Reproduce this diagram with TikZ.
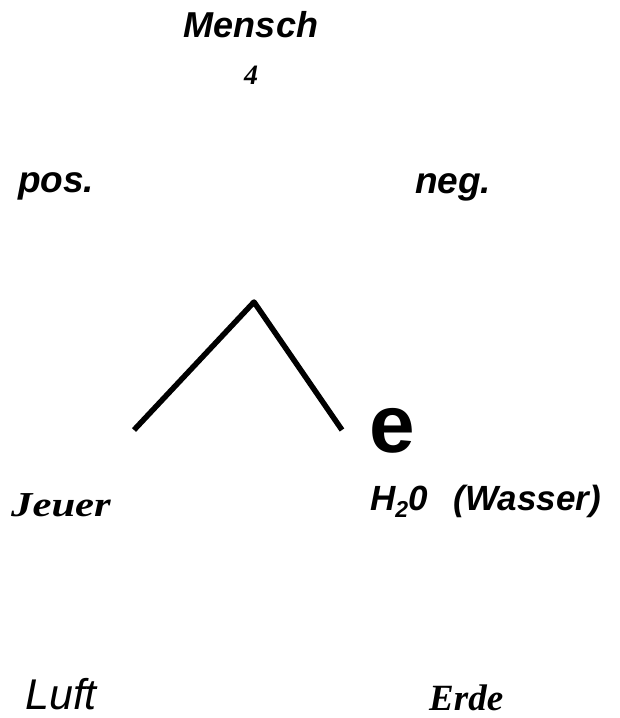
\documentclass[tikz,border=0pt]{standalone}
\usepackage{fontspec}
\usepackage{graphicx}
\setmainfont{Liberation Serif}
\newfontfamily\arialfont{Liberation Sans}
\tikzset{
    lbl/.style={inner sep=0pt, anchor=base west},
    sansbi/.style={font=\arialfont\bfseries\itshape},
    serifbi/.style={font=\bfseries\itshape}
}
\begin{document}
\begin{tikzpicture}[x=1pt, y=-1pt]
                \useasboundingbox (0,0) rectangle (619,718);
                % nodes
                \node[lbl, anchor=base, sansbi] (mensch) at (251,37) {\fontsize{36}{36}\selectfont Mensch};
                \node[lbl, anchor=base, serifbi] (vier) at (251,84) {\fontsize{28}{28}\selectfont 4};
                \node[lbl, sansbi] (pos) at (18,192) {\fontsize{37}{37}\selectfont pos.};
                \node[lbl, sansbi] (neg) at (415,193) {\fontsize{37}{37}\selectfont neg.};
                \node[lbl, font=\arialfont\bfseries] (e) at (369,452) {\fontsize{82}{82}\selectfont e};
                \node[lbl, serifbi] (jeuer) at (11,516) {\fontsize{35}{35}\selectfont\scalebox{1.22}[1]{Jeuer}};
                \node[lbl, sansbi] (wasser) at (370,510) {\fontsize{35}{35}\selectfont H\raisebox{-0.22em}{\fontsize{23}{23}\selectfont 2}0\hspace{26pt}(Wasser)};
                \node[lbl, font=\arialfont\itshape] (luft) at (25,709) {\fontsize{43}{43}\selectfont Luft};
                \node[lbl, serifbi] (erde) at (429,710) {\fontsize{37}{37}\selectfont Erde};
                \coordinate (apex) at (254,302);
                \coordinate (lfoot) at (134,430);
                \coordinate (rfoot) at (342,430);
                % edges
                \draw[line width=5.5pt, line join=round] (lfoot) -- (apex) -- (rfoot);
            \end{tikzpicture}
\end{document}
